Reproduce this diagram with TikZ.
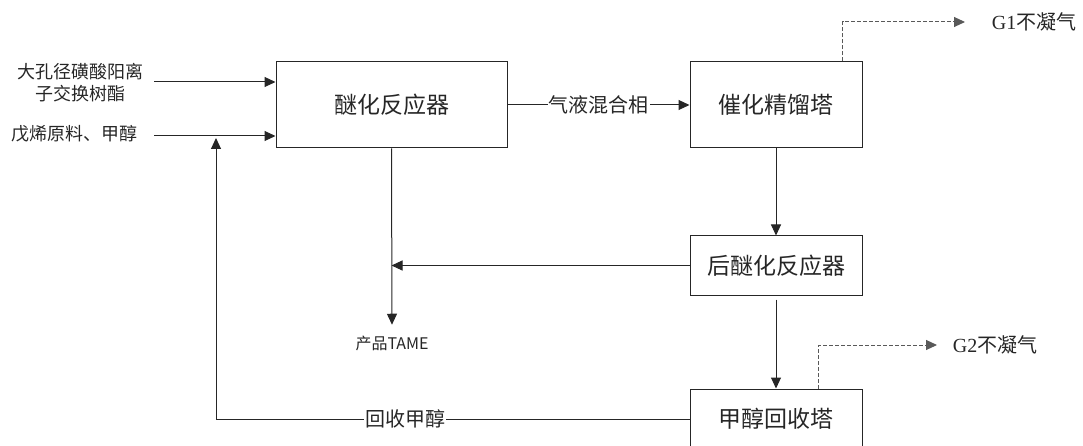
\documentclass[tikz,border=0pt]{standalone}
\usepackage{fontspec}
\setmainfont{Liberation Serif}
\newfontfamily\cjk{Noto Sans CJK SC}
\usetikzlibrary{arrows.meta,positioning}
\tikzset{>={Triangle[length=11pt,width=10pt]}}

\begin{document}
\begin{tikzpicture}[x=1pt, y=-1pt, line width=1pt, color=black!85,
    unit/.style={draw, minimum width=172pt, minimum height=59pt, inner sep=0pt,
        font=\cjk\fontsize{23}{27}\selectfont},
    side/.style={align=center, inner sep=0pt, font=\cjk\fontsize{18}{22}\selectfont},
    lbl/.style={fill=white, inner sep=1pt, font=\cjk\fontsize{20}{24}\selectfont},
    gas/.style={dash pattern=on 4pt off 2pt, draw=black!65}]
    \clip (0,0) rectangle (1083,446);

    % units
    \node[unit, minimum width=231pt, minimum height=86pt] (reactor) at (391.5,105) {醚化反应器};
    \node[unit, minimum height=86pt] (column) at (776,105) {催化精馏塔};
    \node[unit] (post) at (776,265.5) {后醚化反应器};
    \node[unit, minimum height=60pt] (recovery) at (776,419) {甲醇回收塔};

    % feeds
    \node[side] (resin) at (80,83) {大孔径磺酸阳离\\子交换树酯};
    \node[side] (feed) at (74,134) {戊烯原料、甲醇};
    \coordinate (in-1) at (154,82);
    \coordinate (in-2) at (154,136);
    \coordinate (mix) at (216,136);
    \foreach \k in {1,2} {
        \draw[->] (in-\k) -- (in-\k -| reactor.west);
    }

    % products and gases
    \node[font=\cjk\fontsize{16}{19}\selectfont] (product) at (392,343) {产品TAME};
    \node[anchor=west, font=\fontsize{20}{24}\selectfont] (g-1) at (988,22) {G1{\cjk 不凝气}};
    \node[anchor=west, font=\fontsize{20}{24}\selectfont] (g-2) at (949,345) {G2{\cjk 不凝气}};

    \draw[->] (reactor.east) -- node[lbl] {气液混合相} (reactor.east -| column.west);
    \draw[->] (column.south) -- (post.north);
    \draw[->] (post.west) -- (post.west -| reactor.south);
    \draw[->, shorten >=7pt] (reactor.south) -- (product.north);
    \draw[->, shorten <=4pt] (post.south) -- (recovery.north);
    \draw[->, shorten >=2pt] (recovery.west) -- node[lbl, pos=0.6] {回收甲醇} (recovery.west -| mix) -- (mix);

    \draw[gas, ->] ([xshift=-20pt]column.north east) |- ([xshift=-23pt]g-1.west);
    \draw[gas, ->] ([xshift=-44pt]recovery.north east) |- ([xshift=-12pt]g-2.west);
\end{tikzpicture}
\end{document}
